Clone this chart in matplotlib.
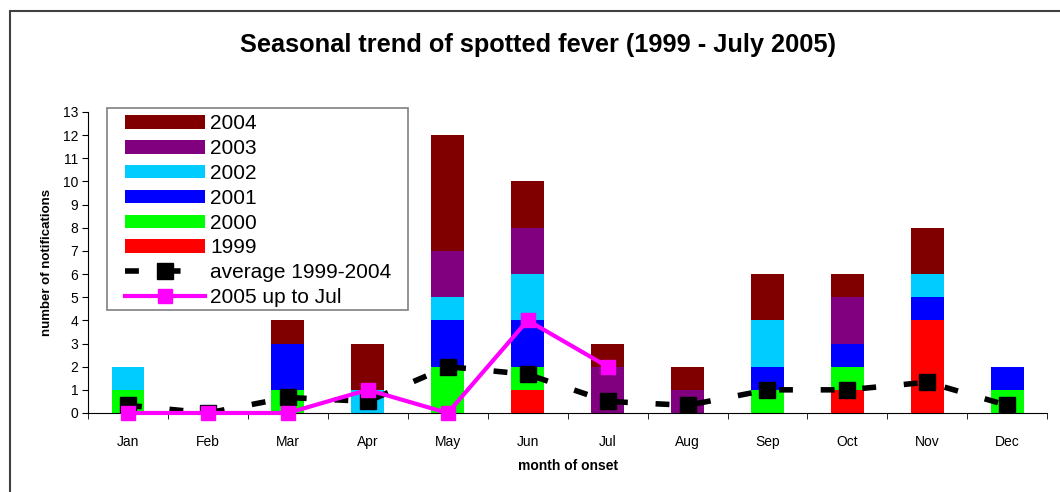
import numpy as np
import matplotlib.pyplot as plt
import matplotlib as mpl
from matplotlib.patches import Rectangle

plt.rcParams['font.family'] = ['Liberation Sans', 'DejaVu Sans']

months = ['Jan', 'Feb', 'Mar', 'Apr', 'May', 'Jun', 'Jul', 'Aug', 'Sep', 'Oct', 'Nov', 'Dec']
years = ['1999', '2000', '2001', '2002', '2003', '2004']
y1999 = [0, 0, 0, 0, 0, 1, 0, 0, 0, 1, 4, 0]
y2000 = [1, 0, 1, 0, 2, 1, 0, 0, 1, 1, 0, 1]
y2001 = [0, 0, 2, 0, 2, 2, 0, 0, 1, 1, 1, 1]
y2002 = [1, 0, 0, 1, 1, 2, 0, 0, 2, 0, 1, 0]
y2003 = [0, 0, 0, 0, 2, 2, 2, 1, 0, 2, 0, 0]
y2004 = [0, 0, 1, 2, 5, 2, 1, 1, 2, 1, 2, 0]
average = [0.33, 0, 0.67, 0.5, 2, 1.67, 0.5, 0.33, 1, 1, 1.33, 0.33]
y2005 = [0, 0, 0, 1, 0, 4, 2]

colors = ['#FF0000', '#00FF00', '#0000FF', '#00CCFF', '#800080', '#800000']

fig = plt.figure(figsize=(10.6, 4.92), dpi=100)
ax = fig.add_axes([0.083, 0.1606, 0.905, 0.6118])

x = np.arange(12) + 0.5
bottom = np.zeros(12)
bars = []
for vals, col, lab in zip([y1999, y2000, y2001, y2002, y2003, y2004], colors, years):
    b = ax.bar(x, vals, width=0.41, bottom=bottom, color=col, label=lab, zorder=2)
    bars.append(b)
    bottom += np.array(vals)

avg_line, = ax.plot(x, average, color='black', linestyle=(0, (2.5, 5)), linewidth=4,
                    marker='s', markersize=11, label='average 1999-2004', zorder=3)
l2005, = ax.plot(x[:len(y2005)], y2005, color='#FF00FF', linewidth=3,
                 marker='s', markersize=10, label='2005 up to Jul', zorder=4,
                 clip_on=False)

ax.set_xlim(0, 12)
ax.set_ylim(0, 13)
ax.set_yticks(range(0, 14))
ax.set_xticks(x)
ax.set_xticklabels(months)
ax.set_xticks(np.arange(13), minor=True)
ax.tick_params(axis='x', which='major', length=0, pad=16, labelsize=10)
ax.tick_params(axis='x', which='minor', length=4, direction='out')
ax.tick_params(axis='y', length=4, direction='out', labelsize=10, pad=3)
for s in ['top', 'right']:
    ax.spines[s].set_visible(False)
ax.set_ylabel('number of notifications', fontsize=9.5, fontweight='bold', labelpad=7)
ax.set_xlabel('month of onset', fontsize=10, fontweight='bold', labelpad=7)

# legend box drawn separately (wider left margin than matplotlib gives)
ax.add_patch(Rectangle((0.0198, 0.3422), 0.3139, 0.6711, transform=ax.transAxes,
                       facecolor='white', edgecolor='#808080', linewidth=1.2,
                       clip_on=False, zorder=4.5))
handles = [bars[5], bars[4], bars[3], bars[2], bars[1], bars[0], avg_line, l2005]
labels = ['2004', '2003', '2002', '2001', '2000', '1999', 'average 1999-2004', '2005 up to Jul']
leg = ax.legend(handles, labels, loc='upper left', bbox_to_anchor=(0.032, 1.013),
                borderaxespad=0, fontsize=15, frameon=False,
                handlelength=3.85, handleheight=0.63, labelspacing=0.28,
                borderpad=0.3, handletextpad=0.25)
leg.set_zorder(5)

fig.text(0.508, 0.908, 'Seasonal trend of spotted fever (1999 - July 2005)',
         ha='center', va='center', fontsize=18.3, fontweight='bold')

fig.patches.append(Rectangle((10 / 1060, -0.1), 1.2, 1.1 - 11 / 492,
                             transform=fig.transFigure, fill=False,
                             edgecolor='#404040', linewidth=1.5))

plt.savefig('out.png', dpi=100)
